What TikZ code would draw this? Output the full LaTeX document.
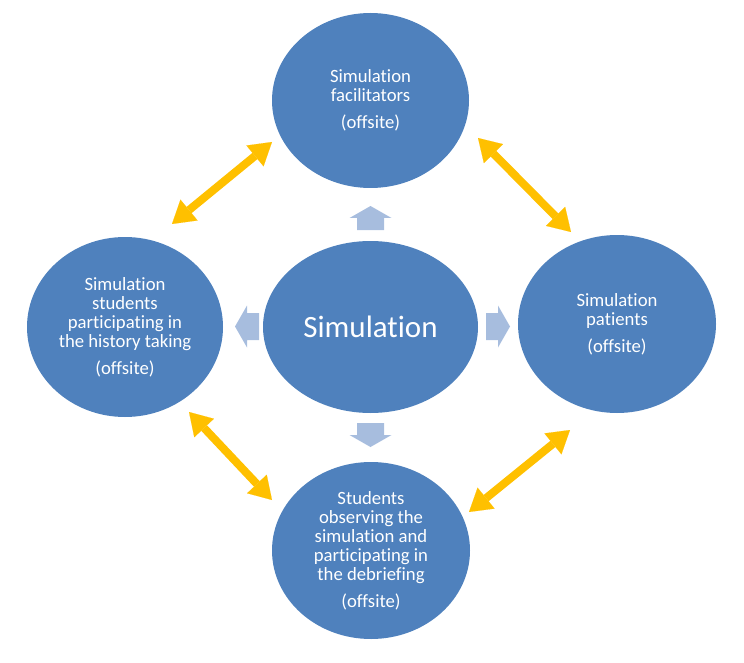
\documentclass[tikz,border=0pt]{standalone}
\usepackage{fontspec}
\setmainfont{Carlito}[Ligatures=NoCommon]
\usetikzlibrary{shapes.geometric,arrows.meta}
\definecolor{circblue}{RGB}{79,129,189}
\definecolor{lightarrow}{RGB}{167,189,222}
\definecolor{gold}{RGB}{255,192,0}
\tikzset{
  bubble/.style={ellipse, fill=circblue, draw=none, inner sep=0pt, text=white, align=center,
    font=\fontsize{18.7}{19}\selectfont},
  goldarrow/.style={draw=gold, fill=gold, line width=8pt, {Triangle[length=22pt,width=27pt,line width=0.1pt]}-{Triangle[length=22pt,width=27pt,line width=0.1pt]}},
  blockarrow/.pic={\fill[lightarrow] (-13.5,0) -- (-13.5,-12) -- (-21,-12) -- (0,-24) -- (21,-12) -- (13.5,-12) -- (13.5,0) -- cycle;}
}
\begin{document}
\begin{tikzpicture}[x=1pt,y=-1pt]
\useasboundingbox (0,0) rectangle (744,663);
% circles
\node[bubble, minimum width=197pt, minimum height=175pt] (top) at (370.5,100.5)
  {Simulation\\facilitators\\[8pt](offsite)};
\node[bubble, minimum width=196pt, minimum height=180pt] (left) at (125,327)
  {Simulation\\students\\participating in\\the history taking\\[8pt](offsite)};
\node[bubble, minimum width=198pt, minimum height=178pt] (right) at (617,324)
  {Simulation\\patients\\[8pt](offsite)};
\node[bubble, minimum width=198pt, minimum height=177pt] (bottom) at (371,550.5)
  {Students\\observing the\\simulation and\\participating in\\the debriefing\\[8pt](offsite)};
\node[bubble, minimum width=215pt, minimum height=172pt, font=\fontsize{31}{34}\selectfont] (center) at (370.5,327)
  {Simulation};
% light block arrows
\pic at (370.5,230) {blockarrow};
\pic[rotate=90] at (259,326.5) {blockarrow};
\pic[rotate=-90] at (486,326.5) {blockarrow};
\pic[rotate=180] at (370.5,423) {blockarrow};
% gold double arrows
\coordinate (tl1) at (272,142);
\coordinate (tl2) at (172,224);
\coordinate (tr1) at (478,138);
\coordinate (tr2) at (571,232);
\coordinate (bl1) at (189,412);
\coordinate (bl2) at (272,500);
\coordinate (br1) at (570,430);
\coordinate (br2) at (469,512);
\draw[goldarrow] (tl1) -- (tl2);
\draw[goldarrow] (tr1) -- (tr2);
\draw[goldarrow] (bl1) -- (bl2);
\draw[goldarrow] (br1) -- (br2);
\end{tikzpicture}
\end{document}
